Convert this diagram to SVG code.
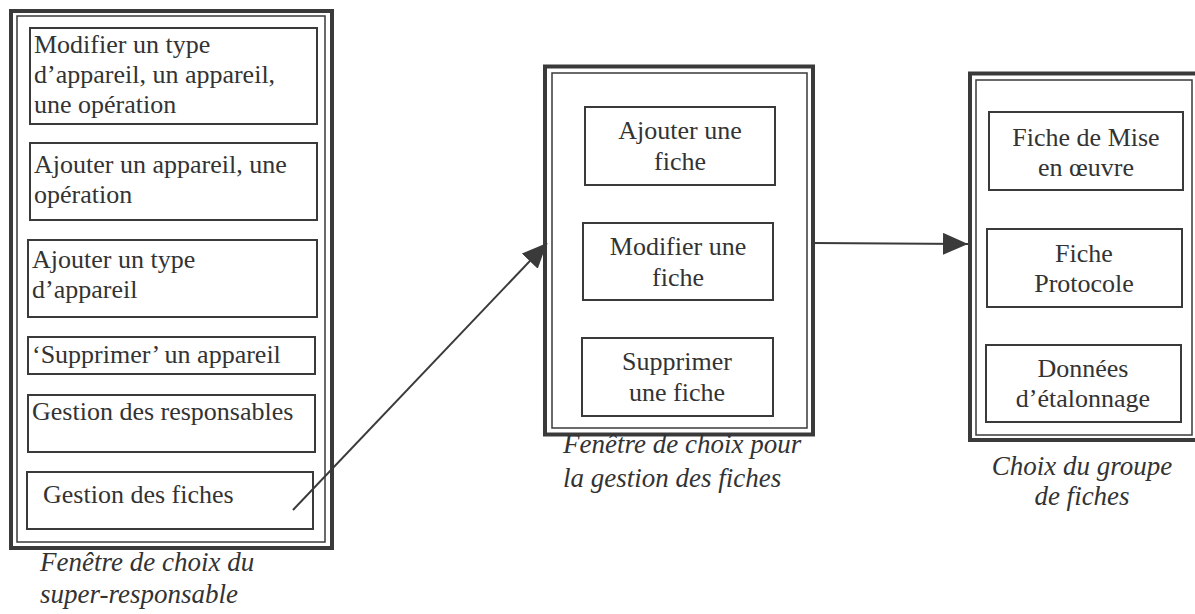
<svg xmlns="http://www.w3.org/2000/svg" width="1195" height="614" viewBox="0 0 1195 614" font-family="'Liberation Serif', 'DejaVu Serif', serif">
<defs>
<style>
.frame{fill:none;stroke:#3a3a3a;stroke-width:4}
.frame2{fill:none;stroke:#3a3a3a;stroke-width:1.5}
.box{fill:#fff;stroke:#3a3a3a;stroke-width:2}
.t{font-size:26px;fill:#333}
.c{text-anchor:middle}
.cap{font-size:27px;font-style:italic;fill:#333}
.conn{stroke:#3a3a3a;stroke-width:2;fill:none;marker-end:url(#ah)}
</style>
<marker id="ah" markerUnits="userSpaceOnUse" markerWidth="26" markerHeight="22" refX="25" refY="11" orient="auto">
<path d="M0,0 L25,11 L0,22 Z" fill="#3a3a3a"/>
</marker>
</defs>
<rect width="1195" height="614" fill="#fff"/>

<g id="panel-super-responsable">
<rect class="frame" x="11" y="11" width="321" height="537"/>
<rect class="frame2" x="17" y="16" width="308" height="526"/>
<text class="cap" x="40" y="571">Fenêtre de choix du</text>
<text class="cap" x="40" y="603">super-responsable</text>
</g>
<g id="n-modifier-type">
<rect class="box" x="30" y="28" width="287" height="96"/>
<text class="t" x="34" y="53">Modifier un type</text>
<text class="t" x="34" y="83">d’appareil, un appareil,</text>
<text class="t" x="34" y="113">une opération</text>
</g>
<g id="n-ajouter-appareil">
<rect class="box" x="30" y="143" width="287" height="77"/>
<text class="t" x="34" y="173">Ajouter un appareil, une</text>
<text class="t" x="34" y="203">opération</text>
</g>
<g id="n-ajouter-type">
<rect class="box" x="28" y="240" width="289" height="77"/>
<text class="t" x="32" y="268">Ajouter un type</text>
<text class="t" x="32" y="298">d’appareil</text>
</g>
<g id="n-supprimer-appareil">
<rect class="box" x="28" y="337" width="287" height="37"/>
<text class="t" x="32" y="363">‘Supprimer’ un appareil</text>
</g>
<g id="n-gestion-responsables">
<rect class="box" x="28" y="395" width="287" height="57"/>
<text class="t" x="32" y="420">Gestion des responsables</text>
</g>
<g id="n-gestion-fiches">
<rect class="box" x="27" y="472" width="286" height="57"/>
<text class="t" x="43" y="503">Gestion des fiches</text>
</g>

<g id="panel-gestion-fiches">
<rect class="frame" x="545" y="66.5" width="268" height="368"/>
<rect class="frame2" x="552" y="73" width="255" height="355"/>
<text class="cap" x="563" y="453">Fenêtre de choix pour</text>
<text class="cap" x="563" y="487">la gestion des fiches</text>
</g>
<g id="n-ajouter-fiche">
<rect class="box" x="585" y="107" width="190" height="78"/>
<text class="t c" x="680" y="139">Ajouter une</text>
<text class="t c" x="680" y="170">fiche</text>
</g>
<g id="n-modifier-fiche">
<rect class="box" x="583" y="223" width="190" height="77"/>
<text class="t c" x="678" y="255">Modifier une</text>
<text class="t c" x="678" y="286">fiche</text>
</g>
<g id="n-supprimer-fiche">
<rect class="box" x="582" y="338" width="191" height="78"/>
<text class="t c" x="677" y="370">Supprimer</text>
<text class="t c" x="677" y="401">une fiche</text>
</g>

<g id="panel-groupe-fiches">
<rect class="frame" x="970" y="73.5" width="230" height="366.5"/>
<rect class="frame2" x="976" y="80" width="216" height="355"/>
<text class="cap c" x="1082" y="475">Choix du groupe</text>
<text class="cap c" x="1082" y="505">de fiches</text>
</g>
<g id="n-mise-en-oeuvre">
<rect class="box" x="989" y="112" width="194" height="78"/>
<text class="t c" x="1086" y="146">Fiche de Mise</text>
<text class="t c" x="1086" y="176">en œuvre</text>
</g>
<g id="n-protocole">
<rect class="box" x="987" y="229" width="195" height="78"/>
<text class="t c" x="1084" y="262">Fiche</text>
<text class="t c" x="1084" y="292">Protocole</text>
</g>
<g id="n-etalonnage">
<rect class="box" x="986" y="345" width="195" height="77"/>
<text class="t c" x="1083" y="377">Données</text>
<text class="t c" x="1083" y="407">d’étalonnage</text>
</g>

<g id="connectors">
<line class="conn" x1="293" y1="510" x2="547" y2="243"/>
<line class="conn" x1="813" y1="243" x2="968" y2="244"/>
</g>
</svg>
